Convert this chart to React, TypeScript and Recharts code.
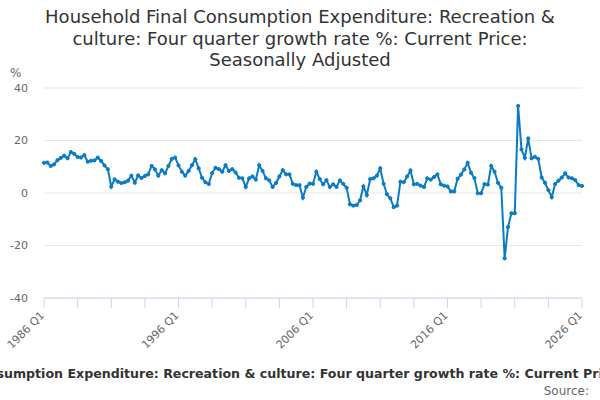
import React from "react";
import { LineChart, Line, XAxis, YAxis, CartesianGrid } from "recharts";

// four quarter growth rate, 1986 Q1 .. 2026 Q1
const growth = [
  11.5, 11.6, 10.3, 10.9, 12.5, 13.4, 14.2, 13.2, 15.6, 14.9, 13.7, 13.5, 14.4, 11.9, 12.3, 12.4, 13.5, 12.2, 10.5, 9.0,
  2.4, 5.2, 4.3, 3.8, 4.1, 4.7, 6.6, 3.9, 6.7, 5.7, 6.5, 7.1, 10.3, 9.0, 6.6, 8.7, 7.5, 10.3, 13.0, 13.5,
  10.5, 8.1, 6.6, 8.4, 10.6, 12.9, 9.4, 5.8, 4.1, 3.4, 7.6, 9.6, 9.1, 8.1, 10.6, 8.4, 9.1, 7.8, 5.8, 5.6,
  2.3, 5.6, 6.3, 5.1, 10.6, 8.4, 5.6, 4.8, 2.3, 3.8, 6.3, 8.7, 7.1, 7.1, 3.5, 3.0, 3.0, -1.8, 2.3, 3.6,
  3.5, 8.1, 5.3, 3.3, 4.9, 2.3, 3.3, 2.3, 4.8, 3.5, 2.0, -4.3, -4.8, -4.6, -2.8, 2.5, -0.8, 5.3, 5.6, 6.6,
  9.4, 3.5, -0.5, -2.0, -5.4, -4.8, 4.3, 4.1, 6.3, 8.6, 3.3, 3.5, 2.8, 2.3, 5.6, 5.1, 6.1, 7.1, 3.3, 2.8,
  2.5, 0.6, 0.6, 5.4, 7.0, 9.0, 11.5, 7.7, 5.7, -0.1, -0.1, 3.4, 3.2, 10.3, 8.1, 3.9, 2.0, -24.9, -13.0, -7.7,
  -7.7, 33.2, 16.6, 13.4, 20.8, 13.2, 13.8, 13.0, 5.9, 3.9, 1.1, -1.6, 3.4, 4.7, 5.9, 7.5, 5.9, 5.6, 4.9, 3.0,
  2.7,
];

const quarters = growth.map((_, i) => `${1986 + Math.floor(i / 4)} Q${(i % 4) + 1}`);
const tickLabels = ["1986 Q1", "1996 Q1", "2006 Q1", "2016 Q1", "2026 Q1"];
const xTicks = [0, 10, 20, 30, 40, 50, 60, 70, 80, 90, 100, 110, 120, 130, 140, 150, 160];
const yTicks = [-40, -20, 0, 20, 40];

const seriesName =
  "Household Final Consumption Expenditure: Recreation & culture: Four quarter growth rate %: Current Price: Seasonally Adjusted";

const data = growth.map((value, i) => ({ i, quarter: quarters[i], value }));

const font = "'DejaVu Sans', Verdana, sans-serif";

const XTick = (props: any) => {
  const { x, y, payload } = props;
  const label = quarters[payload.value];
  if (!tickLabels.includes(label)) return null;
  const ax = x + 1;
  const ay = y + 6;
  return (
    <text
      x={ax}
      y={ay}
      transform={`rotate(-45 ${ax} ${ay})`}
      textAnchor="end"
      fill="#666666"
      fontSize={11}
      fontFamily={font}
    >
      {label}
    </text>
  );
};

const App = () => {
  return (
    <div style={{ position: "relative", width: 600, height: 400, overflow: "hidden", background: "#fff", fontFamily: font }}>
      <style>{`body{margin:0}`}</style>
      <div
        style={{
          position: "absolute",
          top: 6,
          left: 0,
          width: 600,
          textAlign: "center",
          fontSize: 18,
          lineHeight: "21.5px",
          color: "#333333",
        }}
      >
        Household Final Consumption Expenditure: Recreation &amp;
        <br />
        culture: Four quarter growth rate %: Current Price:
        <br />
        Seasonally Adjusted
      </div>
      <div style={{ position: "absolute", top: 66, left: 10, fontSize: 12, color: "#666666" }}>%</div>
      <LineChart width={600} height={400} data={data} margin={{ top: 88, right: 18, bottom: 42, left: 0 }}>
        <CartesianGrid vertical={false} stroke="#e6e6e6" />
        <XAxis
          type="number"
          dataKey="i"
          domain={[0, 160]}
          ticks={xTicks}
          interval={0}
          height={60}
          stroke="#ccd6eb"
          tickSize={10}
          tick={<XTick />}
        />
        <YAxis
          type="number"
          domain={[-40, 40]}
          ticks={yTicks}
          width={44}
          axisLine={false}
          tickLine={false}
          tickSize={0}
          tickMargin={16}
          tick={{ fill: "#666666", fontSize: 11, fontFamily: font }}
        />
        <Line
          type="linear"
          dataKey="value"
          stroke="#0a7bc4"
          strokeWidth={2}
          dot={{ r: 1.6, fill: "#0a7bc4", stroke: "#0a7bc4", strokeWidth: 1 }}
          isAnimationActive={false}
        />
      </LineChart>
      <div
        style={{
          position: "absolute",
          top: 366,
          left: -149,
          whiteSpace: "nowrap",
          fontSize: 12.6,
          fontWeight: "bold",
          color: "#333333",
        }}
      >
        {seriesName}
      </div>
      <div style={{ position: "absolute", top: 384, right: 11, fontSize: 12, color: "#666666" }}>Source:</div>
    </div>
  );
};

export default App;
